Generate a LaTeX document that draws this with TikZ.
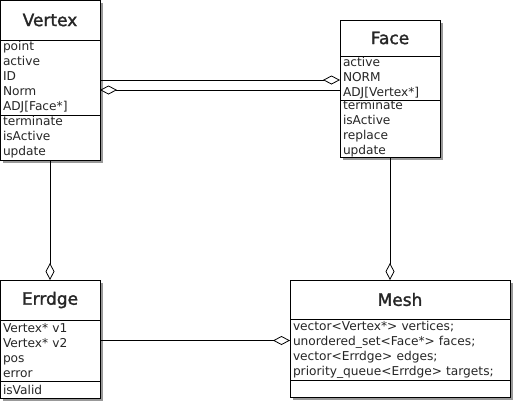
\documentclass[tikz,border=0pt]{standalone}
\usepackage{fontspec}
\setmainfont{DejaVu Sans}
\newfontfamily\classfont{DejaVu Sans}[BoldFont={DejaVu Sans}, BoldFeatures={FakeBold=1.6}]
\usetikzlibrary{arrows.meta,positioning,calc,backgrounds}
\tikzset{
  classtitle/.style={draw, fill=white, line width=1pt, inner sep=0pt, outer sep=0pt,
    text=black!85, font=\classfont\fontsize{17}{20}\selectfont\bfseries},
  classpart/.style={draw, fill=white, line width=1pt, align=left, outer sep=0pt,
    inner xsep=3pt, inner ysep=0pt, text=black!85, font=\fontsize{12.2}{15}\selectfont},
  classshadow/.style={fill=black!40},
  aggr/.style={draw, line width=0.8pt, -{Diamond[open,length=17pt,width=9pt]}},
}

\begin{document}
\begin{tikzpicture}[x=1pt, y=-1pt]
    \useasboundingbox (0,0) rectangle (515,405);

    % Vertex
    \node[classtitle, minimum width=100pt, minimum height=40pt] (vertextitle) at (50,20) {Vertex};
    \node[classpart, text width=94pt, minimum height=75pt, below=0pt of vertextitle] (vertexattr)
        {point\\active\\ID\\Norm\\ADJ[Face*]};
    \node[classpart, text width=94pt, minimum height=45pt, below=0pt of vertexattr] (vertexops)
        {terminate\\isActive\\update};

    % Face
    \node[classtitle, minimum width=100pt, minimum height=36pt] (facetitle) at (390,38) {Face};
    \node[classpart, text width=94pt, minimum height=44pt, below=0pt of facetitle] (faceattr)
        {active\\NORM\\ADJ[Vertex*]};
    \node[classpart, text width=94pt, minimum height=57pt, below=0pt of faceattr] (faceops)
        {terminate\\isActive\\replace\\update};

    % Errdge
    \node[classtitle, minimum width=100pt, minimum height=40pt] (errdgetitle) at (50,300) {Errdge};
    \node[classpart, text width=94pt, minimum height=61pt, below=0pt of errdgetitle] (errdgeattr)
        {Vertex* v1\\Vertex* v2\\pos\\error};
    \node[classpart, text width=94pt, minimum height=17pt, below=0pt of errdgeattr] (errdgeops)
        {isValid};

    % Mesh
    \node[classtitle, minimum width=220pt, minimum height=39pt] (meshtitle) at (400,299.5) {Mesh};
    \node[classpart, text width=214pt, minimum height=61pt, below=0pt of meshtitle] (meshattr)
        {vector<Vertex*> vertices;\\unordered\_set<Face*> faces;\\vector<Errdge> edges;\\priority\_queue<Errdge> targets;};
    \node[classpart, text width=214pt, minimum height=17pt, below=0pt of meshattr] (meshops) {};

    % Shadows
    \begin{scope}[on background layer]
        \fill[classshadow] ($(vertextitle.north west)+(3,3)$) rectangle ($(vertexops.south east)+(3,3)$);
        \fill[classshadow] ($(facetitle.north west)+(3,3)$) rectangle ($(faceops.south east)+(3,3)$);
        \fill[classshadow] ($(errdgetitle.north west)+(3,3)$) rectangle ($(errdgeops.south east)+(3,3)$);
        \fill[classshadow] ($(meshtitle.north west)+(3,3)$) rectangle ($(meshops.south east)+(3,3)$);
    \end{scope}

    % Aggregations
    \draw[aggr] ([yshift=-2.5pt]vertexattr.east) -- ([yshift=-2.5pt]vertexattr.east -| faceattr.west);
    \draw[aggr] ([yshift=-12.5pt]vertexattr.east -| faceattr.west) -- ([yshift=-12.5pt]vertexattr.east);
    \draw[aggr] (vertexops.south) -- (errdgetitle.north);
    \draw[aggr] (faceops.south) -- (faceops.south |- meshtitle.north);
    \draw[aggr] ([yshift=10pt]errdgeattr.east) -- ([yshift=10pt]errdgeattr.east -| meshattr.west);
\end{tikzpicture}
\end{document}
